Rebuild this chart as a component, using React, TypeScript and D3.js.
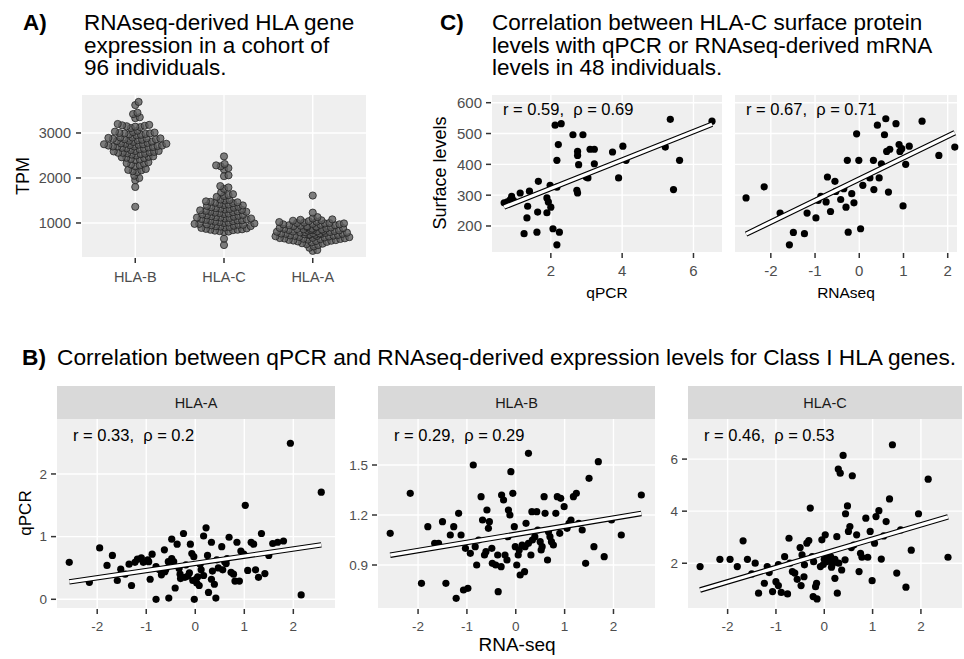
import React, { useEffect, useRef } from "react";
import * as d3 from "d3";

const FONT = "'Liberation Sans', Arial, sans-serif";
const PANEL = "#EFEFEF";
const STRIP = "#D9D9D9";

// A) RNAseq TPM per gene (beeswarm)
const genesA = ["HLA-B", "HLA-C", "HLA-A"];
const tpmHlaB = [
  3690, 3620, 3450, 3420, 3330, 3350, 3200, 3180, 3170, 3160, 3150, 3140, 3130, 3110,
  3050, 3030, 3010, 3000, 2990, 2980, 2970, 2960, 2950, 2990, 3020, 2900, 2890, 2880,
  2870, 2860, 2850, 2840, 2830, 2880, 2860, 2780, 2770, 2760, 2750, 2740, 2730, 2720,
  2710, 2700, 2700, 2690, 2680, 2670, 2660, 2650, 2760, 2720, 2700, 2600, 2590, 2580,
  2570, 2560, 2550, 2540, 2530, 2600, 2560, 2520, 2480, 2460, 2440, 2420, 2400, 2450,
  2470, 2410, 2350, 2330, 2300, 2280, 2260, 2320, 2200, 2180, 2150, 2130, 2170, 2050,
  2000, 1950, 1800, 1360, 2620, 2640, 2500, 2750, 2800, 2810, 2820, 2900,
];
const tpmHlaC = [
  2480, 2310, 2280, 2260, 2220, 2190, 2060, 2040, 1820, 1790, 1760, 1680, 1640, 1620,
  1600, 1580, 1520, 1500, 1480, 1460, 1440, 1420, 1400, 1380, 1510, 1470, 1350, 1330,
  1310, 1290, 1270, 1250, 1230, 1210, 1340, 1300, 1260, 1220, 1180, 1160, 1140, 1120,
  1100, 1080, 1060, 1050, 1040, 1170, 1130, 1090, 1070, 1150, 1010, 990, 970, 950, 930,
  910, 1000, 960, 940, 920, 880, 860, 840, 820, 800, 870, 850, 830, 650, 510, 1450, 1390,
  1360, 1280, 1240, 1200, 1110, 1020, 980, 900, 890, 810, 1320, 1190, 1120, 1060, 1030,
  960, 930, 850, 1410, 1250, 1100, 980,
];
const tpmHlaA = [
  1610, 1230, 1130, 1100, 1080, 1070, 1060, 1050, 1040, 1030, 1020, 1010, 1000, 990, 980,
  970, 960, 950, 940, 930, 920, 910, 990, 970, 950, 930, 910, 900, 890, 880, 870, 860, 850,
  840, 830, 820, 810, 800, 885, 865, 845, 825, 805, 875, 855, 835, 815, 790, 780, 770, 760,
  750, 740, 730, 720, 710, 700, 795, 775, 755, 735, 715, 785, 765, 745, 725, 705, 690, 680,
  670, 660, 650, 640, 630, 620, 610, 600, 685, 665, 645, 625, 605, 655, 590, 570, 550, 530,
  510, 580, 540, 480, 450, 400, 380, 1000, 760,
];
const tpmTicks = [1000, 2000, 3000];

// C) surface levels vs qPCR / RNAseq
const cQpcr = [
  [0.69, 275], [0.78, 278], [0.86, 285], [0.9, 296], [0.95, 283], [1.14, 307], [1.4, 313],
  [1.65, 345], [1.35, 264], [1.33, 226], [1.63, 245], [1.25, 175], [1.61, 180], [1.89, 291],
  [1.93, 278], [2.0, 261], [1.89, 243], [1.98, 332], [2.17, 326], [2.06, 191], [2.24, 180],
  [2.17, 139], [2.12, 527], [2.29, 532], [2.21, 464], [2.17, 413], [2.62, 496], [2.9, 496],
  [2.75, 442], [2.75, 429], [2.78, 399], [2.73, 316], [2.75, 307], [2.99, 359], [3.04, 356],
  [3.1, 449], [3.22, 449], [3.22, 402], [3.73, 440], [4.02, 459], [4.11, 413], [3.9, 356],
  [5.21, 456], [5.35, 546], [5.61, 413], [5.44, 318], [6.52, 540],
];
const cRnaseq = [
  [-2.56, 291], [-2.15, 327], [-1.79, 242], [-1.49, 179], [-1.24, 175], [-1.58, 139],
  [-1.18, 242], [-0.98, 226], [-0.87, 296], [-0.93, 283], [-0.75, 278], [-0.72, 359],
  [-0.55, 345], [-0.53, 312], [-0.65, 247], [-0.42, 286], [-0.35, 321], [-0.3, 261],
  [-0.17, 305], [-0.12, 275], [-0.27, 413], [-0.06, 499], [-0.01, 413], [-0.25, 180],
  [0.03, 191], [0.08, 332], [0.24, 356], [0.32, 413], [0.33, 318], [0.45, 356], [0.5, 402],
  [0.66, 310], [0.41, 527], [0.6, 548], [0.57, 496], [0.83, 532], [0.62, 442], [0.69, 449],
  [0.9, 464], [0.92, 442], [0.96, 451], [1.13, 459], [1.05, 400], [0.99, 265], [1.42, 540],
  [1.8, 429], [2.16, 456],
];
const cXTicks = [[2, 4, 6], [-2, -1, 0, 1, 2]];
const cYTicks = [200, 300, 400, 500, 600];
const cXLabels = ["qPCR", "RNAseq"];
const cFits = [{ a: 230, b: 46 }, { a: 352, b: 69.7 }];
const cStats = ["r = 0.59,  ρ = 0.69", "r = 0.67,  ρ = 0.71"];

// B) qPCR vs RNA-seq per gene
const bGenes = ["HLA-A", "HLA-B", "HLA-C"];
const bHlaA = [
  [-2.57, 0.59], [-2.16, 0.27], [-1.95, 0.82], [-1.8, 0.54], [-1.69, 0.7], [-1.59, 0.3],
  [-1.52, 0.48], [-1.43, 0.4], [-1.3, 0.22], [-1.35, 0.56], [-1.23, 0.59], [-1.18, 0.64],
  [-1.1, 0.66], [-1.06, 0.59], [-0.97, 0.63], [-0.88, 0.72], [-0.92, 0.32], [-0.8, 0.52],
  [-0.73, 0.47], [-0.63, 0.79], [-0.62, 0.44], [-0.69, 0.39], [-0.8, 0.0], [-0.54, 0.02],
  [-0.48, 0.96], [-0.37, 0.88], [-0.48, 0.65], [-0.44, 0.6], [-0.41, 0.18], [-0.33, 0.49],
  [-0.31, 0.4], [-0.24, 1.05], [-0.19, 0.55], [-0.21, 0.35], [-0.12, 0.42], [-0.1, 0.88],
  [-0.07, 0.73], [-0.03, 0.68], [-0.02, 0.0], [0.03, 0.26], [0.08, 0.22], [0.01, 0.32],
  [0.1, 0.56], [0.17, 1.01], [0.22, 1.14], [0.25, 0.7], [0.17, 0.38], [0.27, 0.11],
  [0.33, 0.91], [0.33, 0.32], [0.39, 0.24], [0.42, 0.02], [0.44, 0.63], [0.47, 0.5],
  [0.54, 0.84], [0.56, 0.47], [0.63, 0.57], [0.65, 0.65], [0.69, 0.99], [0.73, 0.43],
  [0.78, 0.4], [0.81, 0.29], [0.85, 0.91], [0.9, 0.29], [0.93, 0.77], [0.99, 0.72],
  [1.02, 1.5], [1.07, 0.46], [1.14, 0.91], [1.19, 0.88], [1.23, 0.47], [1.29, 0.35],
  [1.35, 1.05], [1.42, 0.41], [1.5, 0.7], [1.58, 0.89], [1.68, 0.91], [1.8, 0.93],
  [1.94, 2.49], [2.16, 0.07], [2.57, 1.71], [-0.3, 0.33], [-0.15, 0.37], [0.05, 0.36],
  [0.35, 0.45], [-0.55, 0.6], [-0.95, 0.6], [0.6, 0.6], [-0.05, 0.3], [0.12, 0.47],
  [-0.6, 0.48],
];
const bHlaB = [
  [-2.57, 1.09], [-2.16, 1.33], [-1.93, 0.79], [-1.8, 1.13], [-1.66, 1.03], [-1.58, 1.03],
  [-1.5, 1.16], [-1.43, 0.79], [-1.34, 1.08], [-1.27, 1.13], [-1.17, 1.21], [-1.12, 1.08],
  [-1.22, 0.7], [-1.07, 0.75], [-0.98, 0.76], [-1.03, 1.0], [-0.93, 0.97], [-0.87, 1.5],
  [-0.83, 1.01], [-0.76, 1.05], [-0.8, 0.9], [-0.71, 1.31], [-0.68, 1.17], [-0.59, 1.23],
  [-0.54, 1.16], [-0.56, 1.12], [-0.64, 0.96], [-0.61, 0.98], [-0.49, 1.0], [-0.48, 0.91],
  [-0.41, 0.9], [-0.36, 0.74], [-0.37, 0.96], [-0.3, 0.89], [-0.29, 1.32], [-0.25, 1.29],
  [-0.22, 0.96], [-0.18, 0.93], [-0.15, 1.23], [-0.12, 1.2], [-0.1, 1.46], [-0.06, 1.33],
  [-0.03, 1.13], [-0.16, 1.07], [-0.01, 1.01], [0.02, 0.9], [0.05, 0.96], [0.07, 0.99],
  [0.09, 0.84], [0.18, 0.86], [0.13, 1.02], [0.19, 1.01], [0.21, 1.15], [0.26, 1.57],
  [0.26, 1.03], [0.31, 0.96], [0.33, 1.22], [0.34, 1.05], [0.39, 1.07], [0.43, 1.22],
  [0.45, 1.11], [0.5, 1.04], [0.52, 0.99], [0.54, 1.01], [0.58, 1.31], [0.6, 1.21],
  [0.65, 0.93], [0.67, 1.1], [0.7, 1.07], [0.73, 1.04], [0.77, 1.02], [0.82, 1.21],
  [0.85, 1.31], [0.9, 1.09], [0.92, 1.3], [0.99, 1.25], [1.05, 1.12], [1.09, 1.15],
  [1.13, 1.17], [1.18, 1.31], [1.24, 1.33], [1.29, 1.15], [1.36, 1.11], [1.43, 0.91],
  [1.5, 1.42], [1.6, 1.01], [1.69, 1.52], [1.81, 0.95], [1.96, 1.17], [2.16, 1.08],
  [2.57, 1.32],
];
const bHlaC = [
  [-2.57, 1.87], [-2.16, 2.15], [-1.95, 2.15], [-1.8, 1.87], [-1.68, 2.86], [-1.59, 2.15],
  [-1.43, 2.0], [-1.5, 1.59], [-1.36, 0.85], [-1.24, 1.23], [-1.18, 1.87], [-1.14, 1.64],
  [-1.07, 0.91], [-1.0, 1.29], [-0.95, 1.14], [-0.89, 0.88], [-0.76, 0.82], [-0.82, 2.25],
  [-0.73, 2.96], [-0.71, 2.0], [-0.66, 1.68], [-0.61, 1.62], [-0.56, 1.38], [-0.48, 1.14],
  [-0.5, 2.6], [-0.46, 2.32], [-0.41, 1.94], [-0.36, 2.77], [-0.32, 2.87], [-0.29, 4.12],
  [-0.25, 2.25], [-0.22, 2.06], [-0.23, 0.72], [-0.16, 1.23], [-0.15, 0.63], [-0.18, 1.1],
  [-0.08, 1.87], [-0.05, 2.9], [0.02, 3.09], [0.0, 2.15], [0.05, 2.06], [0.1, 2.15],
  [0.13, 2.25], [0.17, 1.97], [0.22, 2.15], [0.22, 1.42], [0.26, 3.02], [0.27, 0.85],
  [0.29, 5.62], [0.33, 5.46], [0.39, 6.14], [0.36, 1.74], [0.43, 2.13], [0.44, 3.9],
  [0.48, 4.2], [0.5, 3.22], [0.53, 3.41], [0.58, 5.36], [0.56, 2.6], [0.61, 2.7],
  [0.67, 3.09], [0.72, 1.68], [0.75, 2.38], [0.78, 2.23], [0.86, 3.73], [0.9, 2.23],
  [0.95, 3.22], [0.99, 1.33], [1.04, 2.77], [1.07, 3.79], [1.13, 4.02], [1.18, 2.16],
  [1.23, 3.05], [1.28, 3.6], [1.35, 4.47], [1.41, 6.55], [1.5, 1.62], [1.58, 3.28],
  [1.69, 1.08], [1.8, 2.5], [1.95, 3.9], [2.15, 5.23], [2.56, 2.23], [0.3, 2.0],
  [-0.02, 1.95], [0.15, 1.85], [-0.42, 1.48], [0.08, 2.25], [-0.95, 1.95],
];
const bXTicks = [-2, -1, 0, 1, 2];
const bYTicks = [[0, 1, 2], [0.9, 1.2, 1.5], [2, 4, 6]];
const bYDomains = [[-0.139, 2.877], [0.642, 1.776], [0.28, 7.54]];
const bFits = [{ a: 0.573, b: 0.115 }, { a: 1.084, b: 0.0487 }, { a: 2.38, b: 0.548 }];
const bStats = ["r = 0.33,  ρ = 0.2", "r = 0.29,  ρ = 0.29", "r = 0.46,  ρ = 0.53"];

type Box = { l: number; r: number; t: number; b: number };

function frame(svg: any, box: Box, x: any, y: any, xTicks: number[], yTicks: number[], fs: number, yFmt = (v: number) => String(v)) {
  const g = svg.append("g");
  g.append("rect").attr("x", box.l).attr("y", box.t).attr("width", box.r - box.l).attr("height", box.b - box.t).attr("fill", PANEL);
  xTicks.forEach((t) => {
    g.append("line").attr("x1", x(t)).attr("x2", x(t)).attr("y1", box.t).attr("y2", box.b).attr("stroke", "#fff").attr("stroke-width", 1.4);
    g.append("line").attr("x1", x(t)).attr("x2", x(t)).attr("y1", box.b + 1).attr("y2", box.b + 6).attr("stroke", "#333").attr("stroke-width", 1.5);
    g.append("text").attr("x", x(t)).attr("y", box.b + 13 + fs * 0.72).attr("text-anchor", "middle")
      .attr("font-size", fs).attr("fill", "#4d4d4d").attr("font-family", FONT).text(String(t));
  });
  yTicks.forEach((t) => {
    g.append("line").attr("x1", box.l).attr("x2", box.r).attr("y1", y(t)).attr("y2", y(t)).attr("stroke", "#fff").attr("stroke-width", 1.4);
    g.append("line").attr("x1", box.l - 6).attr("x2", box.l - 1).attr("y1", y(t)).attr("y2", y(t)).attr("stroke", "#333").attr("stroke-width", 1.5);
    g.append("text").attr("x", box.l - 10).attr("y", y(t) + fs * 0.36).attr("text-anchor", "end")
      .attr("font-size", fs).attr("fill", "#4d4d4d").attr("font-family", FONT).text(yFmt(t));
  });
  return g;
}

function fitLine(g: any, data: number[][], fit: { a: number; b: number }, x: any, y: any) {
  const [lo, hi] = d3.extent(data, (d) => d[0]) as [number, number];
  const pts: [number, number][] = [[lo, fit.a + fit.b * lo], [hi, fit.a + fit.b * hi]];
  const line = d3.line<[number, number]>().x((d) => x(d[0])).y((d) => y(d[1]));
  g.append("path").attr("d", line(pts)).attr("stroke", "#000").attr("stroke-width", 5.5).attr("fill", "none");
  g.append("path").attr("d", line(pts)).attr("stroke", "#fff").attr("stroke-width", 3.3).attr("fill", "none");
}

// simple beeswarm: place each point as close to the centre as it can go,
// points that would land past the corral width wrap back inside
function swarm(values: number[], y: (v: number) => number, d: number, limit: number) {
  const pts = values.map((v) => ({ v, py: y(v), dx: 0 })).sort((a, b) => a.v - b.v);
  const placed: { v: number; py: number; dx: number }[] = [];
  for (const p of pts) {
    const near = placed.filter((q) => Math.abs(q.py - p.py) < d);
    const cands = [0];
    near.forEach((q) => {
      const off = Math.sqrt(d * d - (q.py - p.py) ** 2);
      cands.push(q.dx + off, q.dx - off);
    });
    cands.sort((a, b) => Math.abs(a) - Math.abs(b));
    for (const c of cands) {
      if (near.every((q) => (q.dx - c) ** 2 + (q.py - p.py) ** 2 >= d * d - 0.01)) {
        p.dx = c;
        break;
      }
    }
    placed.push(p);
  }
  return placed.map((p) => {
    const a = Math.abs(p.dx);
    const dx = a > limit ? Math.sign(p.dx) * (a % limit) : p.dx;
    return { ...p, dx };
  });
}

function label(svg: any, x: number, y: number, txt: string, fs: number, extra: any = {}) {
  const t = svg.append("text").attr("x", x).attr("y", y).attr("font-size", fs).attr("font-family", FONT)
    .attr("fill", "#000").style("white-space", "pre").text(txt);
  Object.keys(extra).forEach((k) => t.attr(k, extra[k]));
  return t;
}

function title(svg: any, x: number, y: number, tag: string, tx: number, lines: string[], fs: number) {
  label(svg, x, y, tag, fs, { "font-weight": "bold" });
  lines.forEach((l, i) => label(svg, tx, y + i * 22.7, l, fs));
}

const App = () => {
  const svgRef = useRef<SVGSVGElement>(null);

  useEffect(() => {
    const svg = d3.select(svgRef.current);
    svg.selectAll("*").remove();

    // ---- A ----
    title(svg, 23, 30, "A)", 84, ["RNAseq-derived HLA gene", "expression in a cohort of", "96 individuals."], 22.5);
    const boxA = { l: 82, r: 366, t: 95, b: 257 };
    const xA = d3.scalePoint<string>().domain(genesA).range([boxA.l, boxA.r]).padding(0.6);
    const yA = d3.scaleLinear().domain([244, 3844]).range([boxA.b, boxA.t]);
    const gA = svg.append("g");
    gA.append("rect").attr("x", boxA.l).attr("y", boxA.t).attr("width", boxA.r - boxA.l).attr("height", boxA.b - boxA.t).attr("fill", PANEL);
    genesA.forEach((gn) => {
      gA.append("line").attr("x1", xA(gn)).attr("x2", xA(gn)).attr("y1", boxA.t).attr("y2", boxA.b).attr("stroke", "#fff").attr("stroke-width", 1.4);
      gA.append("line").attr("x1", xA(gn)).attr("x2", xA(gn)).attr("y1", boxA.b + 1).attr("y2", boxA.b + 6).attr("stroke", "#333").attr("stroke-width", 1.5);
      gA.append("text").attr("x", xA(gn)).attr("y", boxA.b + 25).attr("text-anchor", "middle").attr("font-size", 14.5)
        .attr("fill", "#4d4d4d").attr("font-family", FONT).text(gn);
    });
    tpmTicks.forEach((t) => {
      gA.append("line").attr("x1", boxA.l).attr("x2", boxA.r).attr("y1", yA(t)).attr("y2", yA(t)).attr("stroke", "#fff").attr("stroke-width", 1.4);
      gA.append("line").attr("x1", boxA.l - 6).attr("x2", boxA.l - 1).attr("y1", yA(t)).attr("y2", yA(t)).attr("stroke", "#333").attr("stroke-width", 1.5);
      gA.append("text").attr("x", boxA.l - 11).attr("y", yA(t) + 5).attr("text-anchor", "end").attr("font-size", 14.5)
        .attr("fill", "#4d4d4d").attr("font-family", FONT).text(String(t));
    });
    [tpmHlaB, tpmHlaC, tpmHlaA].forEach((vals, i) => {
      const cx = xA(genesA[i]) as number;
      swarm(vals, yA, 4.6, 38).forEach((p) => {
        gA.append("circle").attr("cx", cx + p.dx).attr("cy", p.py).attr("r", 3.6)
          .attr("fill", "#5e5e5e").attr("fill-opacity", 0.8).attr("stroke", "#1e1e1e").attr("stroke-opacity", 0.75).attr("stroke-width", 1);
      });
    });
    label(svg, 0, 0, "TPM", 18, { transform: "translate(29,176) rotate(-90)", "text-anchor": "middle" });

    // ---- C ----
    title(svg, 440, 30, "C)", 492, ["Correlation between HLA-C surface protein", "levels with qPCR or RNAseq-derived mRNA", "levels in 48 individuals."], 22.5);
    const boxesC = [{ l: 492, r: 722, t: 95, b: 252 }, { l: 735, r: 957, t: 95, b: 252 }];
    const xDomC = [[0.35, 6.8], [-2.81, 2.21]];
    const yC = d3.scaleLinear().domain([115.6, 625]).range([252, 95]);
    [cQpcr, cRnaseq].forEach((data, i) => {
      const box = boxesC[i];
      const x = d3.scaleLinear().domain(xDomC[i]).range([box.l, box.r]);
      const g = frame(svg, box, x, yC, cXTicks[i], i === 0 ? cYTicks : [], 15);
      if (i === 1) {
        cYTicks.forEach((t) => g.append("line").attr("x1", box.l).attr("x2", box.r).attr("y1", yC(t)).attr("y2", yC(t)).attr("stroke", "#fff").attr("stroke-width", 1.4));
      }
      data.forEach((d) => g.append("circle").attr("cx", x(d[0])).attr("cy", yC(d[1])).attr("r", 3.6).attr("fill", "#000"));
      fitLine(g, data, cFits[i], x, yC);
      label(g, box.l + 11, 115, cStats[i], 16.5);
      label(g, (box.l + box.r) / 2, 298, cXLabels[i], 15.5, { "text-anchor": "middle" });
    });
    label(svg, 0, 0, "Surface levels", 18, { transform: "translate(446,173) rotate(-90)", "text-anchor": "middle" });

    // ---- B ----
    title(svg, 22, 365, "B)", 57, ["Correlation between qPCR and RNAseq-derived expression levels for Class I HLA genes."], 22.7);
    const boxesB = [{ l: 57, r: 335, t: 419, b: 608 }, { l: 378, r: 655, t: 419, b: 608 }, { l: 688, r: 962, t: 419, b: 608 }];
    [bHlaA, bHlaB, bHlaC].forEach((data, i) => {
      const box = boxesB[i];
      const x = d3.scaleLinear().domain([-2.82, 2.85]).range([box.l, box.r]);
      const y = d3.scaleLinear().domain(bYDomains[i]).range([box.b, box.t]);
      const fmt = i === 1 ? d3.format(".1f") : (v: number) => String(v);
      const g = frame(svg, box, x, y, bXTicks, bYTicks[i], 13.5, fmt);
      g.append("rect").attr("x", box.l).attr("y", 386).attr("width", box.r - box.l).attr("height", 33).attr("fill", STRIP);
      g.append("text").attr("x", (box.l + box.r) / 2).attr("y", 408).attr("text-anchor", "middle").attr("font-size", 14.5)
        .attr("font-family", FONT).attr("fill", "#1a1a1a").text(bGenes[i]);
      data.forEach((d) => g.append("circle").attr("cx", x(d[0])).attr("cy", y(d[1])).attr("r", 3.6).attr("fill", "#000"));
      fitLine(g, data, bFits[i], x, y);
      label(g, box.l + 16, 441, bStats[i], 16.5);
    });
    label(svg, 517, 651, "RNA-seq", 19, { "text-anchor": "middle" });
    label(svg, 0, 0, "qPCR", 17, { transform: "translate(31,513) rotate(-90)", "text-anchor": "middle" });
  }, []);

  return (
    <svg ref={svgRef} width={964} height={659} style={{ position: "absolute", left: 0, top: 0, background: "#fff" }}></svg>
  );
};

export default App;
